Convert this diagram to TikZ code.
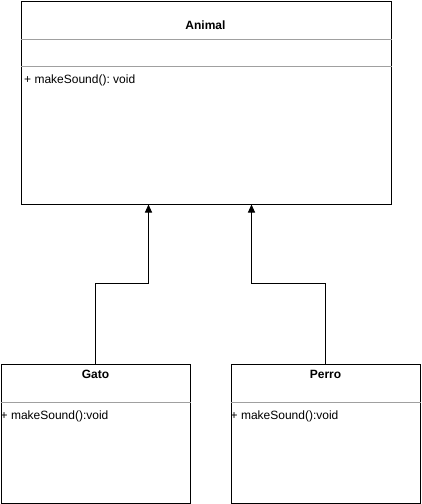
\documentclass[tikz,border=0pt]{standalone}
\usepackage{fontspec}
\setmainfont{Liberation Sans}
\usetikzlibrary{arrows.meta}
\definecolor{sepgray}{HTML}{A0A0A0}
\frenchspacing
\begin{document}
\begin{tikzpicture}[x=1pt,y=-1pt,
  umlbox/.style={draw=black, line width=1pt, fill=white, anchor=north west, inner sep=0pt},
  sepline/.style={draw=sepgray, line width=1pt},
  titletext/.style={font=\fontsize{12}{14}\selectfont\bfseries, inner sep=0pt},
  methtext/.style={font=\fontsize{12}{14}\selectfont, inner sep=0pt, anchor=west},
  inh/.style={draw=black, line width=1pt, -{Triangle[length=8pt,width=7pt]}}]
\useasboundingbox (0,0) rectangle (421,504);
\fill[white] (0,0) rectangle (421,504);
% boxes
\node[umlbox, minimum width=370pt, minimum height=203pt] (animal) at (20.5,0.5) {};
\node[umlbox, minimum width=189.5pt, minimum height=139pt] (gato) at (0.5,363.5) {};
\node[umlbox, minimum width=189.5pt, minimum height=139pt] (perro) at (230.5,363.5) {};
% separators
\draw[sepline] ([yshift=-39pt]animal.north west) -- ([yshift=-39pt]animal.north east);
\draw[sepline] ([yshift=-66pt]animal.north west) -- ([yshift=-66pt]animal.north east);
\draw[sepline] ([yshift=-39pt]gato.north west) -- ([yshift=-39pt]gato.north east);
\draw[sepline] ([yshift=-39pt]perro.north west) -- ([yshift=-39pt]perro.north east);
% texts
\node[titletext] (animalt) at (205.5,25) {Animal};
\node[titletext] (gatot) at (95.5,374) {Gato};
\node[titletext] (perrot) at (325.5,374) {Perro};
\node[methtext] (animalm) at (24,80) {+ makeSound(): void};
\node[methtext] (gatom) at (0.5,416) {+ makeSound():void};
\node[methtext] (perrom) at (230.5,416) {+ makeSound():void};
% connectors
\coordinate (tipg) at (148.5,204.5);
\coordinate (tipp) at (251.5,204.5);
\draw[inh] (gato.north) -- ++(0,-80) -| (tipg);
\draw[inh] (perro.north) -- ++(0,-80) -| (tipp);
\end{tikzpicture}
\end{document}
